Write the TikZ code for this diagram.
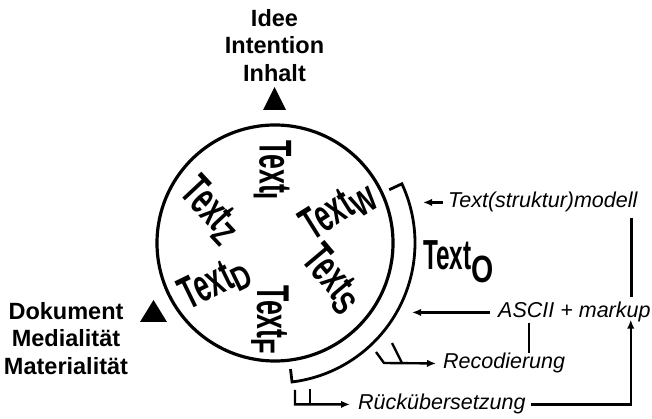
\documentclass[tikz,border=0pt]{standalone}
\usepackage{fontspec}
\usepackage{graphicx}
\setmainfont{Liberation Sans}
\usetikzlibrary{arrows.meta,positioning}

\newcommand{\txtsub}[3]{\scalebox{0.58}[1]{\bfseries Text}\raisebox{#2}{\scalebox{0.75}[1]{\fontsize{#1}{#1}\selectfont\bfseries #3}}}

\tikzset{
	inner/.style={font=\fontsize{46}{46}\selectfont, inner sep=0pt},
	lbl/.style={font=\fontsize{21.5}{24}\selectfont\itshape, inner sep=0pt, anchor=base west},
	big/.style={font=\fontsize{23.5}{27.5}\selectfont\bfseries, align=center, inner sep=0pt},
	arr/.style={-{Latex[length=9pt,width=7.5pt]}, line width=2.4pt},
	ln/.style={line width=2.4pt},
}

\begin{document}
\begin{tikzpicture}[x=1pt,y=1pt]
\useasboundingbox (0,0) rectangle (652,419);

%Circle
\coordinate (ctr) at (275,176);
\draw[line width=3.2pt] (ctr) circle[radius=118];

%Text O bracket
\draw[line width=2.8pt] ([shift={(25:126)}]ctr) -- ([shift={(25:140)}]ctr)
	arc[start angle=25,end angle=-83,radius=140] -- ([shift={(-83:127)}]ctr);

%Texts inside the circle
\node [inner,rotate=-90]  (texti)at (272.5,249) {\txtsub{34}{-6pt}{I}};
\node [inner,rotate=32]  (textw)at (338,209) {\txtsub{34}{-6pt}{W}};
\node [inner,rotate=-50]  (texts)at (332.5,140) {\txtsub{34}{-6pt}{S}};
\node [inner,rotate=-47]  (textz)at (211,209) {\txtsub{34}{-6pt}{Z}};
\node [inner,rotate=26]  (textd)at (215,136) {\txtsub{34}{-6pt}{D}};
\node [inner,rotate=-90]  (textf)at (270,99) {\txtsub{34}{-6pt}{F}};

%Text O
\node [inner,font=\fontsize{42}{42}\selectfont,anchor=base west]  (texto)at (423,149) {\txtsub{38}{-13pt}{O}};

%Idee
\node [big,anchor=north]  (idee)at (274.5,410) {Idee\\Intention\\Inhalt};
\fill (263,309) -- (286,309) -- (274.5,332) -- cycle;

%Dokument
\node [big,anchor=north]  (doku)at (66,117) {Dokument\\Medialität\\Materialität};
\fill (140,97) -- (167,97) -- (153.5,119) -- cycle;

%Right side labels
\node [lbl]  (modell)at (448,211) {Text(struktur)modell};
\node [lbl]  (ascii)at (498,101) {ASCII + markup};
\node [lbl]  (recod)at (443,50) {Recodierung};
\node [lbl]  (rueck)at (358,9) {Rückübersetzung};

%Modell input
\node (modin) [left=25pt of modell.west, coordinate] {};
\draw[arr] ([xshift=-5pt]modell.west) -- (modin);
\draw[ln] ([xshift=-6pt,yshift=-5pt]modell.south east) -- ([xshift=-6pt,yshift=5pt]modell.south east |- ascii.north);

%ASCII input
\node (asciiin) [left=86pt of ascii.west, coordinate] {};
\draw[arr] ([xshift=-8pt]ascii.west) -- (asciiin);
\draw[ln] ([xshift=31pt]ascii.south west) -- ++(0,-30);

%Recodierung
\coordinate (rtine) at (376,67);
\coordinate (rfork) at (384,56);
\draw[arr] (rtine) -- (rfork) -- ([xshift=-7pt]recod.west);
\draw[ln] (392,76) -- (402,56);

%Rueckuebersetzung
\coordinate (utine) at (295,29);
\coordinate (ufork) at (295,14.6);
\draw[arr] (utine) -- (ufork) -- ([xshift=-8pt]rueck.west);
\draw[ln] (310,30) -- (310,14.6);
\draw[arr] ([xshift=5pt]rueck.east) -| ([xshift=-20pt,yshift=3pt]ascii.south east);

\end{tikzpicture}
\end{document}
